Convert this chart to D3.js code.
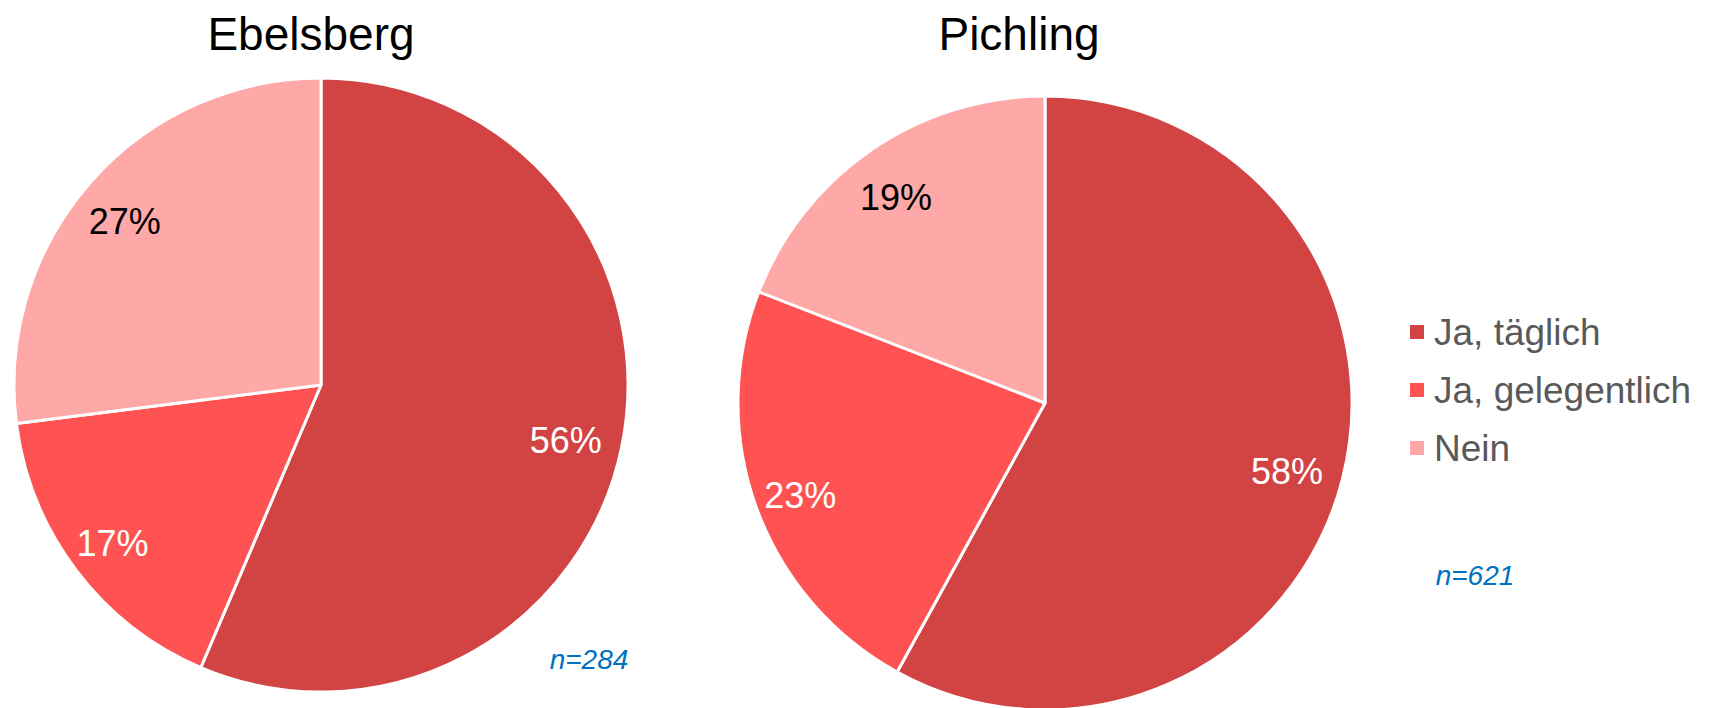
<!DOCTYPE html>
<meta charset="utf-8" />
<style>
  body { margin: 0; background: #fff; }
  text { font-family: "Liberation Sans", Arial, sans-serif; }
</style>
<body>
  <div id="chart"></div>
  <script src="https://d3js.org/d3.v7.min.js"></script>
  <script>
    // data
    var categories = ["Ja, täglich", "Ja, gelegentlich", "Nein"];
    var titles = ["Ebelsberg", "Pichling"];
    var ebelsbergValues = [56.4, 16.6, 27.0];
    var pichlingValues = [58.0, 22.9, 19.1];
    var ebelsbergLabels = ["56%", "17%", "27%"];
    var pichlingLabels = ["58%", "23%", "19%"];
    var sampleSizes = ["n=284", "n=621"];

    var width = 1711, height = 708;
    var colors = ["#D24343", "#FF5252", "#FFA8A8"];
    var labelColors = ["#fff", "#fff", "#000"];

    var svg = d3.select("#chart").append("svg")
      .attr("width", width)
      .attr("height", height);

    // layout of the two pies
    var pies = [
      { title: titles[0], values: ebelsbergValues, labels: ebelsbergLabels, n: sampleSizes[0],
        cx: 321, cy: 385, titleX: 311, nX: 589, nY: 659 },
      { title: titles[1], values: pichlingValues, labels: pichlingLabels, n: sampleSizes[1],
        cx: 1045, cy: 403, titleX: 1019, nX: 1475, nY: 575 }
    ];

    var radius = 307;
    var pie = d3.pie().sort(null).value(function (d) { return d; });
    var arc = d3.arc().innerRadius(0).outerRadius(radius);
    var labelArc = d3.arc().innerRadius(255).outerRadius(255);

    pies.forEach(function (p) {
      var g = svg.append("g")
        .attr("transform", "translate(" + p.cx + "," + p.cy + ")");

      var arcs = pie(p.values);

      g.selectAll("path")
        .data(arcs)
        .enter()
        .append("path")
        .attr("d", arc)
        .attr("fill", function (d, i) { return colors[i]; })
        .attr("stroke", "#fff")
        .attr("stroke-width", 3)
        .attr("stroke-linejoin", "round");

      // data labels, nudged a little like excel does
      g.selectAll("text.lbl")
        .data(arcs)
        .enter()
        .append("text")
        .attr("class", "lbl")
        .attr("transform", function (d) {
          var c = labelArc.centroid(d);
          return "translate(" + (c[0] - 5) + "," + (c[1] + 5) + ")";
        })
        .attr("text-anchor", "middle")
        .attr("dominant-baseline", "central")
        .style("font-size", "36px")
        .attr("fill", function (d, i) { return labelColors[i]; })
        .text(function (d, i) { return p.labels[i]; });

      // title
      svg.append("text")
        .attr("x", p.titleX)
        .attr("y", 50)
        .attr("text-anchor", "middle")
        .style("font-size", "46px")
        .attr("fill", "#000")
        .text(p.title);

      // sample size
      svg.append("text")
        .attr("x", p.nX)
        .attr("y", p.nY)
        .attr("text-anchor", "middle")
        .attr("dominant-baseline", "central")
        .style("font-size", "28px")
        .style("font-style", "italic")
        .attr("fill", "#0070C0")
        .text(p.n);
    });

    // legend
    var legend = svg.append("g").attr("transform", "translate(1410,0)");
    var legendY = d3.scalePoint().domain(categories).range([332, 448]);

    categories.forEach(function (c, i) {
      legend.append("rect")
        .attr("x", 0)
        .attr("y", legendY(c) - 7)
        .attr("width", 14)
        .attr("height", 14)
        .attr("fill", colors[i]);
      legend.append("text")
        .attr("x", 24)
        .attr("y", legendY(c))
        .attr("dominant-baseline", "central")
        .style("font-size", "37px")
        .attr("fill", "#595959")
        .text(c);
    });
  </script>
</body>
